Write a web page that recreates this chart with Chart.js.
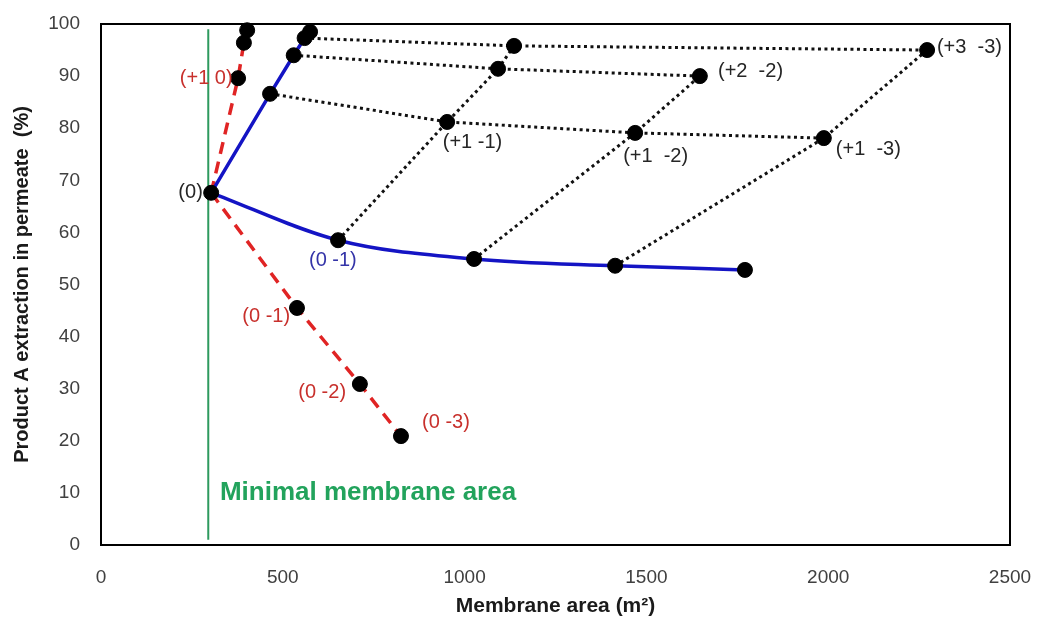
<!DOCTYPE html>
<html lang="en">
<head>
<meta charset="UTF-8">
<title>Membrane area vs product A extraction</title>
<script src="https://cdn.jsdelivr.net/npm/chart.js@4.4.0/dist/chart.umd.min.js"></script>
<style>
  html, body {margin: 0; padding: 0; background: #fff;}
  #wrap {width: 1037px; height: 624px;}
</style>
</head>
<body>
<div id="wrap"><canvas id="membrane_chart"></canvas></div>
<script>
// values (x = membrane area m2, y = extraction %)
var centerX = 303, centerY = 67.6;

var blueUpperX = [303, 465, 530, 560, 575];
var blueUpperY = [67.6, 86.6, 94.0, 97.3, 98.5];

var blueLowerX = [303, 652, 1026, 1414, 1771];
var blueLowerY = [67.6, 58.5, 54.9, 53.6, 52.8];

var redUpperX = [303, 377, 393, 402];
var redUpperY = [67.6, 89.6, 96.4, 98.8];

var redLowerX = [303, 539, 712, 825];
var redLowerY = [67.6, 45.5, 30.9, 20.9];

// dotted grid between the two blue branches
var row1X = [465, 952, 1469, 1988];
var row1Y = [86.6, 81.2, 79.1, 78.1];
var row2X = [530, 1092, 1647];
var row2Y = [94.0, 91.4, 90.0];
var row3X = [560, 1136, 2272];
var row3Y = [97.3, 95.8, 95.0];
var diag1X = [652, 952, 1092, 1136];
var diag1Y = [58.5, 81.2, 91.4, 95.8];
var diag2X = [1026, 1469, 1647];
var diag2Y = [54.9, 79.1, 90.0];
var diag3X = [1414, 1988, 2272];
var diag3Y = [53.6, 78.1, 95.0];

var minAreaX = 295;
var minAreaY = [1, 99];

var labelText  = ['(0)', '(+1 0)', '(0 -1)', '(0 -1)', '(0 -2)', '(0 -3)', '(+1 -1)', '(+1  -2)', '(+1  -3)', '(+2  -2)', '(+3  -3)'];
var labelX     = [280, 362, 572, 520, 674, 883, 940, 1436, 2021, 1697, 2299];
var labelY     = [67.6, 89.6, 54.7, 43.8, 29.2, 23.6, 77.2, 74.5, 76.0, 90.8, 95.4];
var labelKind  = ['black', 'red', 'blue', 'red', 'red', 'red', 'black', 'black', 'black', 'black', 'black'];
var labelAlign = ['right', 'right', 'left', 'right', 'right', 'left', 'left', 'left', 'left', 'left', 'left'];

var xTicks = [0, 500, 1000, 1500, 2000, 2500];
var yTicks = [0, 10, 20, 30, 40, 50, 60, 70, 80, 90, 100];

function pts(xs, ys) {
  return xs.map(function(x, i) { return {x: x, y: ys[i]}; });
}

var kindColor = {black: '#262626', red: '#c8302c', blue: '#3434a8'};
var FONT = "'Liberation Sans', Arial, sans-serif";

// every marker once
var markers = [{x: centerX, y: centerY}]
  .concat(pts(blueUpperX, blueUpperY).slice(1))
  .concat(pts(blueLowerX, blueLowerY).slice(1))
  .concat(pts(redUpperX, redUpperY).slice(1))
  .concat(pts(redLowerX, redLowerY).slice(1))
  .concat(pts(diag1X, diag1Y).slice(1))
  .concat(pts(diag2X, diag2Y).slice(1))
  .concat(pts(diag3X, diag3Y).slice(1));

function dotted(xs, ys) {
  return {
    data: pts(xs, ys), showLine: true, borderColor: '#111', borderWidth: 3,
    borderDash: [3, 3.5], pointRadius: 0, order: 5, clip: false
  };
}

// keep the plot box where it is in the picture
function noPad(s) {
  s.paddingTop = 0; s.paddingBottom = 0; s.paddingLeft = 0; s.paddingRight = 0;
}

var boxPlugin = {
  id: 'boxAndLabels',
  afterDatasetsDraw: function(chart) {
    var ctx = chart.ctx, a = chart.chartArea;
    var xs = chart.scales.x, ys = chart.scales.y;
    ctx.save();
    ctx.strokeStyle = '#000';
    ctx.lineWidth = 2;
    ctx.strokeRect(a.left, a.top, a.right - a.left, a.bottom - a.top);

    ctx.font = '20px ' + FONT;
    ctx.textBaseline = 'middle';
    for (var i = 0; i < labelText.length; i++) {
      ctx.fillStyle = kindColor[labelKind[i]];
      ctx.textAlign = labelAlign[i];
      ctx.fillText(labelText[i], xs.getPixelForValue(labelX[i]), ys.getPixelForValue(labelY[i]));
    }

    ctx.font = 'bold 26px ' + FONT;
    ctx.fillStyle = '#22a35c';
    ctx.textAlign = 'left';
    ctx.fillText('Minimal membrane area', xs.getPixelForValue(327), ys.getPixelForValue(10));
    ctx.restore();
  }
};

var ctx = document.getElementById('membrane_chart');
new Chart(ctx, {
  type: 'scatter',
  data: {
    datasets: [
      {
        data: markers, pointRadius: 7.5, pointHoverRadius: 7.5,
        backgroundColor: '#000', borderColor: '#000', showLine: false, order: 0, clip: false
      },
      {
        data: pts(blueLowerX, blueLowerY), showLine: true, borderColor: '#1414c4',
        borderWidth: 3.5, pointRadius: 0, cubicInterpolationMode: 'monotone', order: 2
      },
      {
        data: pts(blueUpperX, blueUpperY), showLine: true, borderColor: '#1414c4',
        borderWidth: 3.5, pointRadius: 0, order: 2, clip: false
      },
      {
        data: pts(redUpperX, redUpperY), showLine: true, borderColor: '#e02424',
        borderWidth: 3.5, borderDash: [12, 8], pointRadius: 0, order: 3, clip: false
      },
      {
        data: pts(redLowerX, redLowerY), showLine: true, borderColor: '#e02424',
        borderWidth: 3.5, borderDash: [12, 8], pointRadius: 0, order: 3
      },
      dotted(row1X, row1Y),
      dotted(row2X, row2Y),
      dotted(row3X, row3Y),
      dotted(diag1X, diag1Y),
      dotted(diag2X, diag2Y),
      dotted(diag3X, diag3Y),
      {
        data: pts([minAreaX, minAreaX], minAreaY), showLine: true, borderColor: '#2e9a5e',
        borderWidth: 2, pointRadius: 0, order: 6
      }
    ]
  },
  options: {
    responsive: true,
    maintainAspectRatio: false,
    animation: false,
    layout: {padding: {left: 0, top: 24, right: 27, bottom: 0}},
    plugins: {legend: {display: false}, tooltip: {enabled: false}},
    scales: {
      x: {
        type: 'linear', min: 0, max: 2500,
        afterBuildTicks: function(s) { s.ticks = xTicks.map(function(v) { return {value: v}; }); },
        afterFit: function(s) { s.height = 79; noPad(s); },
        grid: {display: false, drawTicks: false},
        border: {display: false},
        ticks: {
          color: '#404040', font: {family: FONT, size: 19}, padding: 21, maxRotation: 0,
          callback: function(v) { return String(v); }
        },
        title: {
          display: true, text: 'Membrane area (m²)', color: '#1a1a1a',
          font: {family: FONT, size: 21, weight: 'bold'}, padding: {top: 0, bottom: 5}
        }
      },
      y: {
        type: 'linear', min: 0, max: 100,
        afterBuildTicks: function(s) { s.ticks = yTicks.map(function(v) { return {value: v}; }); },
        afterFit: function(s) { s.width = 101; noPad(s); },
        grid: {display: false, drawTicks: false},
        border: {display: false},
        ticks: {
          color: '#404040', font: {family: FONT, size: 19}, padding: 21,
          callback: function(v) { return String(v); }
        },
        title: {
          display: true, text: 'Product A extraction in permeate  (%)', color: '#1a1a1a',
          font: {family: FONT, size: 20, weight: 'bold'}, padding: {top: 10, bottom: 0}
        }
      }
    }
  },
  plugins: [boxPlugin]
});
</script>
</body>
</html>
